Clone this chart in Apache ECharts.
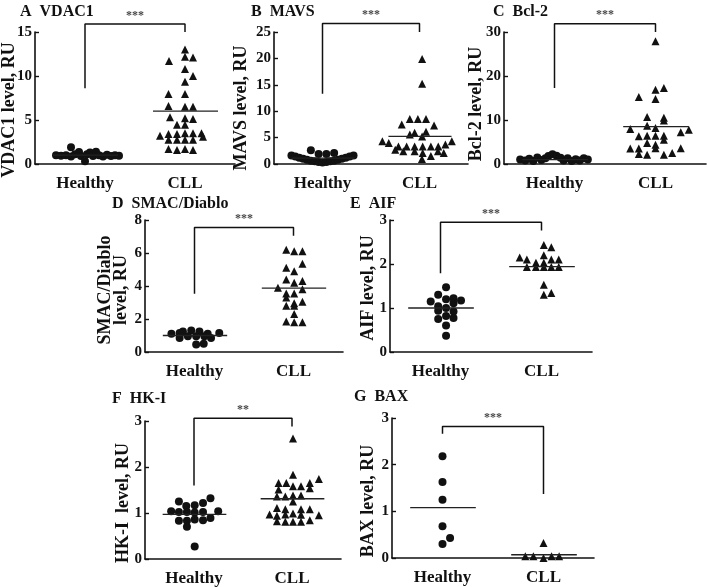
<!DOCTYPE html>
<html>
<head>
<meta charset="utf-8">
<script src="https://cdn.jsdelivr.net/npm/echarts@6/dist/echarts.min.js"></script>
<style>html,body{margin:0;padding:0;background:#fff;}#c{width:708px;height:587px;}</style>
</head>
<body>
<div id="c"></div>
<script>
// ---------- DATA ----------
const categories = ['Healthy', 'CLL'];
const panelTitles = ['A  VDAC1', 'B  MAVS', 'C  Bcl-2', 'D  SMAC/Diablo', 'E  AIF', 'F  HK-I', 'G  BAX'];
const yNames = ['VDAC1 level, RU', 'MAVS level, RU', 'Bcl-2 level, RU', 'SMAC/Diablo\nlevel, RU', 'AIF level, RU', 'HK-I  level, RU', 'BAX level, RU'];
const yMax = [15, 25, 30, 8, 3, 3, 3];
const yInterval = [5, 5, 10, 2, 1, 1, 1];
const significance = ['***', '***', '***', '***', '***', '**', '***'];

// points: [jitter offset from group centre, value]
const vdac1Healthy = [[-0.29,1.0],[-0.24,0.95],[-0.19,1.0],[-0.14,1.9],[-0.14,0.85],[-0.10,1.1],[-0.06,1.35],[-0.04,0.9],[0,0.3],[0.02,1.1],[0.05,1.3],[0.08,0.9],[0.11,1.4],[0.14,1.0],[0.18,0.85],[0.22,1.05],[0.26,0.9],[0.30,1.0],[0.34,0.95]];
const vdac1Cll = [[0,13.0],[0,12.2],[-0.16,11.7],[0.08,12.1],[0,10.8],[0.08,10.0],[0,9.35],[-0.165,7.95],[0,7.95],[-0.165,6.6],[0,6.5],[0.08,6.5],[-0.15,5.3],[0,5.2],[0.08,5.1],[-0.08,4.45],[0,4.45],[-0.25,3.2],[-0.165,3.4],[-0.08,3.4],[0,3.5],[0.08,3.5],[0.165,3.5],[0.18,3.1],[-0.165,2.75],[-0.08,2.75],[0,2.75],[0.08,2.75],[-0.165,1.7],[-0.08,1.6],[0,1.7],[0.08,1.6]];
const vdac1Median = [1.0, 6.0];
const vdac1Bracket = [8.6, 15.9, 15.0];

const mavsHealthy = [[-0.32,1.6],[-0.28,1.4],[-0.24,1.2],[-0.20,1.0],[-0.16,0.8],[-0.12,0.6],[-0.12,2.6],[-0.08,0.5],[-0.04,0.4],[-0.04,1.9],[0,0.3],[0.04,0.4],[0.04,1.9],[0.08,0.5],[0.12,2.1],[0.12,0.6],[0.16,0.8],[0.20,1.0],[0.24,1.2],[0.28,1.4],[0.32,1.6]];
const mavsCll = [[0.027,19.9],[0.027,15.2],[-0.1,8.5],[-0.017,8.5],[0.067,8.5],[-0.183,7.5],[0.15,7.3],[-0.05,5.9],[0.067,6.1],[-0.1,5.6],[0.027,5.2],[-0.383,4.3],[-0.317,4.0],[-0.217,3.3],[-0.133,3.3],[-0.05,3.3],[0.033,3.3],[0.117,3.3],[0.193,3.3],[0.267,3.7],[0.333,4.3],[-0.25,2.7],[-0.167,2.4],[-0.05,2.4],[0.033,2.1],[0.19,2.4],[0.025,0.95],[0.117,1.5],[0.25,2.1]];
const mavsMedian = [1.1, 5.25];
const mavsBracket = [13.3, 26.6, 25.0];

const bcl2Healthy = [[-0.34,1.0],[-0.29,0.8],[-0.25,1.2],[-0.21,0.7],[-0.17,1.5],[-0.13,0.9],[-0.09,1.3],[-0.06,1.8],[-0.02,2.2],[0.02,1.9],[0.06,1.4],[0.09,0.8],[0.13,1.3],[0.17,0.7],[0.21,1.1],[0.25,0.8],[0.29,1.3],[0.33,1.0]];
const bcl2Cll = [[0,27.9],[0,16.9],[0.083,17.3],[-0.165,15.2],[0,14.8],[-0.083,10.7],[0.083,10.5],[0.083,9.9],[-0.083,8.7],[0,8.2],[-0.25,7.95],[0.33,7.8],[0.25,7.2],[-0.165,6.3],[-0.083,6.4],[0,6.4],[0.083,6.4],[0.083,5.5],[-0.083,4.8],[0,4.4],[-0.25,3.5],[-0.165,3.5],[0,3.6],[0.25,3.6],[-0.165,2.3],[-0.083,2.1],[0.083,2.1],[0.165,2.5]];
const bcl2Median = [1.0, 8.5];
const bcl2Bracket = [17.3, 31.9, 30.0];

const smacHealthy = [[-0.233,1.1],[-0.15,1.15],[-0.117,1.25],[-0.033,1.3],[0.05,1.25],[0.133,1.1],[0.25,1.15],[-0.15,0.85],[-0.067,0.95],[0.017,0.95],[0.1,0.95],[0.167,0.85],[0.017,0.45],[0.093,0.5]];
const smacCll = [[-0.073,6.2],[0.007,6.1],[0.09,6.1],[0.09,5.35],[-0.073,5.1],[0.007,4.9],[-0.073,4.4],[0.007,4.2],[0.09,4.3],[-0.157,3.9],[-0.073,3.55],[0.007,3.55],[0.09,3.8],[-0.073,3.3],[0.007,2.95],[0.09,3.05],[-0.073,2.8],[0.007,2.8],[0.007,2.3],[-0.073,1.85],[0.007,1.8],[0.09,1.8]];
const smacMedian = [1.0, 3.87];
const smacBracket = [3.53, 7.54, 7.04];

const aifHealthy = [[0.055,1.47],[-0.023,1.3],[0.129,1.22],[0.055,1.2],[0.203,1.17],[-0.097,1.15],[0.129,1.11],[-0.023,1.04],[0.055,1.0],[-0.023,0.94],[0.129,0.92],[0.055,0.82],[-0.023,0.75],[0.129,0.77],[0.055,0.6],[0.055,0.37]];
const aifCll = [[0.023,2.43],[0.097,2.38],[0.023,2.2],[-0.216,2.15],[-0.145,2.1],[0.097,2.1],[0.171,2.1],[-0.055,2.03],[0.023,2.03],[-0.145,1.93],[-0.055,1.93],[0.023,1.93],[0.097,1.93],[0.171,1.93],[0.023,1.53],[0.023,1.3],[0.097,1.34]];
const aifMedian = [1.0, 1.94];
const aifBracket = [1.79, 2.95, 2.76];

const hkHealthy = [[-0.154,1.25],[0.168,1.32],[-0.079,1.15],[0.007,1.17],[0.092,1.22],[-0.233,1.04],[-0.154,1.02],[-0.072,1.02],[0.007,1.01],[0.092,1.02],[0.247,1.04],[-0.154,0.83],[-0.072,0.83],[0.007,0.86],[0.092,0.84],[0.168,0.89],[-0.072,0.7],[0.007,0.27]];
const hkCll = [[0.01,2.62],[0.01,1.83],[-0.137,1.65],[-0.058,1.65],[0.182,1.65],[0.274,1.74],[-0.137,1.51],[0.01,1.58],[0.092,1.58],[0.182,1.54],[-0.154,1.36],[-0.068,1.36],[0.01,1.38],[0.092,1.38],[0.01,1.25],[-0.154,1.11],[-0.068,1.08],[0.092,1.08],[0.182,1.08],[-0.229,0.97],[-0.154,0.94],[-0.068,0.97],[0.01,0.99],[0.092,0.96],[0.274,0.95],[-0.154,0.82],[-0.068,0.81],[0.01,0.81],[0.092,0.81],[0.182,0.84]];
const hkMedian = [0.97, 1.31];
const hkBracket = [1.6, 3.06, 2.88];

const baxHealthy = [[0,2.18],[0,1.63],[0,1.25],[0,0.68],[0.075,0.43],[0,0.3]];
const baxCll = [[0,0.32],[-0.18,0.04],[-0.1,0.04],[0,0.0],[0.08,0.04],[0.155,0.04]];
const baxMedian = [1.08, 0.07];
const baxBracket = [2.66, 2.82, 1.37];

const healthyAll = [vdac1Healthy, mavsHealthy, bcl2Healthy, smacHealthy, aifHealthy, hkHealthy, baxHealthy];
const cllAll = [vdac1Cll, mavsCll, bcl2Cll, smacCll, aifCll, hkCll, baxCll];
const mediansAll = [vdac1Median, mavsMedian, bcl2Median, smacMedian, aifMedian, hkMedian, baxMedian];
const bracketsAll = [vdac1Bracket, mavsBracket, bcl2Bracket, smacBracket, aifBracket, hkBracket, baxBracket];

// ---------- LAYOUT ----------
const grids = [
  {left: 35, top: 32, width: 200, height: 132},
  {left: 274, top: 32, width: 194, height: 132},
  {left: 504, top: 32, width: 202, height: 132},
  {left: 145, top: 220, width: 198, height: 132},
  {left: 390, top: 220, width: 202, height: 132},
  {left: 145, top: 421, width: 196, height: 139},
  {left: 392, top: 418, width: 202, height: 140}
];
const titlePos = [[20,4],[251,4],[493,4],[112,196],[350,196],[112,391],[354,389]];
const yNamePos = [[9,110],[241,108],[476,104],[113,290],[368,288],[123,503],[368,501]];

const FONT = "'Liberation Serif', 'Times New Roman', serif";
const INK = '#111';

const option = {
  animation: false,
  backgroundColor: '#fff',
  textStyle: {fontFamily: FONT},
  title: panelTitles.map((t, i) => ({
    text: t, left: titlePos[i][0], top: titlePos[i][1], padding: 0,
    textStyle: {fontFamily: FONT, fontWeight: 'bold', fontSize: 16, color: INK}
  })),
  graphic: yNames.map((t, i) => ({
    type: 'text', x: yNamePos[i][0], y: yNamePos[i][1], rotation: Math.PI / 2, silent: true,
    style: {text: t, fill: INK, font: "bold 18px " + FONT, align: 'center', verticalAlign: 'middle', lineHeight: 16}
  })),
  grid: grids.map(g => Object.assign({containLabel: false}, g)),
  xAxis: [],
  yAxis: [],
  series: []
};

grids.forEach((g, i) => {
  option.xAxis.push({
    type: 'category', gridIndex: i, data: categories, boundaryGap: true,
    axisLine: {onZero: false, lineStyle: {color: INK, width: 1.6}},
    axisTick: {alignWithLabel: true, length: 5, lineStyle: {color: INK, width: 1.4}},
    axisLabel: {color: INK, fontFamily: FONT, fontWeight: 'bold', fontSize: 17, margin: 11},
    splitLine: {show: false}
  });
  option.xAxis.push({
    type: 'value', gridIndex: i, min: -0.5, max: 1.5, show: false
  });
  option.yAxis.push({
    type: 'value', gridIndex: i, min: 0, max: yMax[i], interval: yInterval[i],
    axisLine: {show: true, onZero: false, lineStyle: {color: INK, width: 1.6}},
    axisTick: {show: true, inside: true, length: 4, lineStyle: {color: INK, width: 1.4}},
    axisLabel: {color: INK, fontFamily: FONT, fontWeight: 'bold', fontSize: 15, margin: 3},
    splitLine: {show: false}
  });
  const xi = 2 * i + 1;
  option.series.push({
    type: 'scatter', xAxisIndex: xi, yAxisIndex: i, symbol: 'circle', symbolSize: 8,
    itemStyle: {color: INK, opacity: 1}, data: healthyAll[i].map(p => [0 + p[0], p[1]]), clip: false, silent: true
  });
  option.series.push({
    type: 'scatter', xAxisIndex: xi, yAxisIndex: i, symbol: 'triangle', symbolSize: 8,
    itemStyle: {color: INK, opacity: 1}, data: cllAll[i].map(p => [1 + p[0], p[1]]), clip: false, silent: true
  });
  const m = mediansAll[i];
  [0, 1].forEach(k => {
    option.series.push({
      type: 'line', xAxisIndex: xi, yAxisIndex: i, symbol: 'none', silent: true, clip: false,
      lineStyle: {color: '#222', width: 1.3},
      data: [[k - 0.32, m[k]], [k + 0.33, m[k]]]
    });
  });
  const b = bracketsAll[i];
  option.series.push({
    type: 'line', xAxisIndex: xi, yAxisIndex: i, symbol: 'none', silent: true, clip: false,
    lineStyle: {color: INK, width: 1.5},
    data: [[0, b[0]], [0, b[1]], [1, b[1]], [1, b[2]]]
  });
  option.series.push({
    type: 'scatter', xAxisIndex: xi, yAxisIndex: i, symbolSize: 1, silent: true, clip: false,
    itemStyle: {color: 'rgba(0,0,0,0)'},
    label: {show: true, position: 'top', distance: 2, formatter: significance[i],
      fontFamily: FONT, fontWeight: 'bold', fontSize: 12, color: INK},
    data: [[0.5, b[1]]]
  });
});

const chart = echarts.init(document.getElementById('c'), null, {renderer: 'canvas'});
chart.setOption(option);
</script>
</body>
</html>
